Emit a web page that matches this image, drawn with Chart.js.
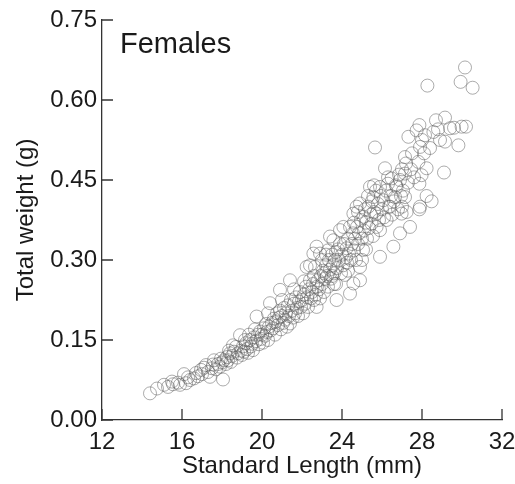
<!DOCTYPE html>
<html>
<head>
<meta charset="utf-8">
<script src="https://cdn.jsdelivr.net/npm/chart.js@4"></script>
<style>
  html, body { margin: 0; padding: 0; background: #fff; }
</style>
</head>
<body>
<canvas id="lengthWeightChart" width="515" height="484"></canvas>
<script>
// 体长 (mm)
const lengthMm = [
  14.4, 14.75, 15.1, 15.3, 15.55, 15.8, 15.9, 16.2, 16.1, 15.5,
  16.4, 16.6, 16.8, 16.95, 17.0, 17.2, 17.3, 17.4, 17.5, 17.6,
  17.7, 17.8, 17.9, 18.0, 18.05, 17.1, 16.7, 17.55, 17.95, 16.3,
  18.1, 18.2, 18.25, 18.3, 18.4, 18.45, 18.5, 18.6, 18.7, 18.75,
  18.8, 18.9, 18.95, 19.0, 19.05, 19.1, 19.2, 19.25, 19.3, 19.4,
  19.45, 19.5, 19.55, 19.6, 19.7, 19.73, 19.8, 19.85, 19.9, 19.95,
  18.55, 19.15, 19.65, 18.35, 19.35,
  20.0, 20.05, 20.1, 20.15, 20.2, 20.25, 20.3, 20.35, 20.4, 20.45,
  20.5, 20.55, 20.6, 20.65, 20.7, 20.75, 20.8, 20.85, 20.9, 20.95,
  21.0, 21.05, 21.1, 21.15, 21.2, 21.25, 21.3, 21.35, 21.4, 21.45,
  21.5, 21.55, 21.6, 21.65, 21.7, 21.75, 21.8, 21.85, 21.9, 21.95,
  20.9, 21.4, 20.3, 21.0, 21.6,
  22.0, 22.05, 22.1, 22.15, 22.2, 22.23, 22.25, 22.3, 22.35, 22.4,
  22.45, 22.5, 22.55, 22.6, 22.65, 22.7, 22.73, 22.75, 22.8, 22.85,
  22.9, 22.95, 23.0, 23.05, 23.1, 23.15, 23.2, 23.25, 23.3, 23.35,
  23.4, 23.45, 23.5, 23.55, 23.57, 23.6, 23.65, 23.7, 23.73, 23.75,
  23.8, 23.85, 23.9, 23.95, 24.0, 22.57, 22.73, 23.4, 23.0, 23.3,
  22.4, 23.6, 23.1, 22.9, 23.9, 23.2, 22.1, 23.7, 22.6, 23.5,
  24.05, 24.07, 24.1, 24.15, 24.2, 24.23, 24.25, 24.3, 24.35, 24.4,
  24.4, 24.45, 24.5, 24.55, 24.57, 24.57, 24.6, 24.65, 24.7, 24.73,
  24.75, 24.8, 24.85, 24.9, 24.9, 24.9, 24.95, 25.0, 25.05, 25.07,
  25.1, 25.15, 25.2, 25.25, 25.3, 25.32, 25.35, 25.4, 25.45, 25.48,
  25.5, 25.55, 25.57, 25.6, 25.65, 25.7, 25.73, 25.73, 25.8, 25.85,
  25.9, 25.9, 25.9, 25.95, 24.3, 24.6, 25.2, 25.6, 24.8, 25.0,
  26.0, 26.07, 26.1, 26.15, 26.2, 26.23, 26.3, 26.35, 26.4, 26.45,
  26.48, 26.5, 26.57, 26.6, 26.65, 26.7, 26.73, 26.8, 26.85, 26.9,
  26.9, 26.95, 26.98, 27.0, 27.05, 27.15, 27.15, 27.15, 27.2, 27.23,
  27.3, 27.32, 27.4, 27.45, 27.5, 27.6, 27.73, 27.82, 27.87, 27.87,
  27.87, 27.9, 27.9, 27.98, 26.3, 27.0,
  28.0, 28.15, 28.23, 28.23, 28.27, 28.48, 28.57, 28.7, 28.9, 29.1,
  29.15, 29.15, 29.4, 29.82, 29.93, 29.98, 30.15, 30.53, 30.2, 28.4,
  28.8, 29.6, 28.1
];

// 总重 (g)
const weightG = [
  0.050, 0.059, 0.066, 0.062, 0.067, 0.070, 0.066, 0.069, 0.086, 0.072,
  0.075, 0.078, 0.082, 0.094, 0.086, 0.103, 0.090, 0.081, 0.097, 0.112,
  0.095, 0.105, 0.100, 0.108, 0.076, 0.098, 0.088, 0.104, 0.115, 0.080,
  0.112, 0.105, 0.118, 0.112, 0.125, 0.109, 0.120, 0.128, 0.137, 0.117,
  0.125, 0.159, 0.130, 0.122, 0.138, 0.128, 0.144, 0.133, 0.126, 0.150,
  0.138, 0.143, 0.131, 0.155, 0.148, 0.194, 0.160, 0.142, 0.166, 0.152,
  0.140, 0.150, 0.170, 0.130, 0.160,
  0.160, 0.145, 0.172, 0.158, 0.180, 0.165, 0.150, 0.175, 0.219, 0.168,
  0.182, 0.172, 0.190, 0.160, 0.185, 0.200, 0.178, 0.192, 0.205, 0.170,
  0.195, 0.182, 0.210, 0.188, 0.200, 0.175, 0.215, 0.195, 0.181, 0.225,
  0.205, 0.192, 0.218, 0.200, 0.230, 0.210, 0.195, 0.222, 0.240, 0.212,
  0.244, 0.262, 0.200, 0.225, 0.245,
  0.225, 0.200, 0.235, 0.218, 0.250, 0.287, 0.230, 0.212, 0.245, 0.262,
  0.228, 0.240, 0.255, 0.270, 0.287, 0.235, 0.212, 0.250, 0.262, 0.245,
  0.312, 0.270, 0.255, 0.280, 0.240, 0.265, 0.290, 0.270, 0.250, 0.300,
  0.282, 0.265, 0.310, 0.290, 0.337, 0.275, 0.300, 0.255, 0.225, 0.285,
  0.320, 0.300, 0.356, 0.275, 0.310, 0.312, 0.325, 0.344, 0.300, 0.318,
  0.290, 0.255, 0.275, 0.228, 0.330, 0.310, 0.260, 0.315, 0.225, 0.270,
  0.290, 0.362, 0.330, 0.272, 0.305, 0.322, 0.295, 0.340, 0.312, 0.362,
  0.237, 0.300, 0.330, 0.350, 0.387, 0.256, 0.318, 0.340, 0.300, 0.400,
  0.362, 0.330, 0.350, 0.287, 0.262, 0.406, 0.375, 0.340, 0.319, 0.381,
  0.355, 0.395, 0.370, 0.340, 0.420, 0.400, 0.360, 0.437, 0.385, 0.368,
  0.410, 0.345, 0.418, 0.390, 0.511, 0.430, 0.362, 0.387, 0.405, 0.375,
  0.437, 0.356, 0.306, 0.420, 0.280, 0.370, 0.320, 0.440, 0.390, 0.300,
  0.395, 0.412, 0.380, 0.472, 0.430, 0.375, 0.443, 0.400, 0.400, 0.420,
  0.453, 0.385, 0.325, 0.410, 0.418, 0.440, 0.437, 0.395, 0.460, 0.450,
  0.350, 0.420, 0.387, 0.470, 0.430, 0.462, 0.418, 0.493, 0.481, 0.390,
  0.445, 0.531, 0.362, 0.470, 0.500, 0.455, 0.543, 0.484, 0.553, 0.443,
  0.395, 0.512, 0.400, 0.459, 0.455, 0.400,
  0.525, 0.534, 0.472, 0.420, 0.627, 0.410, 0.540, 0.562, 0.525, 0.464,
  0.567, 0.522, 0.547, 0.515, 0.634, 0.550, 0.661, 0.623, 0.550, 0.510,
  0.545, 0.548, 0.500
];

const xTicks = [12, 16, 20, 24, 28, 32];
const yTicks = [0.0, 0.15, 0.3, 0.45, 0.6, 0.75];

const points = lengthMm.map((x, i) => ({ x: x, y: weightG[i] }));

const fontFamily = "'Liberation Sans', Arial, Helvetica, sans-serif";

// 内向刻度线 + 图内标签
const innerTicks = {
  id: "innerTicks",
  afterDraw(chart) {
    const ctx = chart.ctx;
    const area = chart.chartArea;
    const xs = chart.scales.x;
    const ys = chart.scales.y;
    ctx.save();
    ctx.strokeStyle = "#333";
    ctx.lineWidth = 1.3;
    ctx.beginPath();
    xTicks.forEach((v) => {
      const px = xs.getPixelForValue(v);
      ctx.moveTo(px, area.bottom);
      ctx.lineTo(px, area.bottom - 11);
    });
    yTicks.forEach((v) => {
      const py = ys.getPixelForValue(v);
      ctx.moveTo(area.left, py);
      ctx.lineTo(area.left + 11, py);
    });
    ctx.stroke();

    ctx.fillStyle = "#1a1a1a";
    ctx.font = "29px " + fontFamily;
    ctx.textAlign = "left";
    ctx.textBaseline = "alphabetic";
    ctx.fillText("Females", area.left + 18, area.top + 33);
    ctx.restore();
  },
};

const ctx = document.getElementById("lengthWeightChart").getContext("2d");
const chart = new Chart(ctx, {
  type: "scatter",
  data: {
    datasets: [
      {
        data: points,
        pointStyle: "circle",
        pointRadius: 6.5,
        pointBorderWidth: 1,
        pointBorderColor: "rgba(90, 90, 90, 0.5)",
        pointBackgroundColor: "rgba(0, 0, 0, 0)",
      },
    ],
  },
  options: {
    responsive: false,
    animation: false,
    events: [],
    layout: {
      padding: { left: 0, right: 13, top: 20, bottom: 0 },
    },
    scales: {
      x: {
        type: "linear",
        min: 12,
        max: 32,
        afterBuildTicks: (scale) => {
          scale.ticks = xTicks.map((v) => ({ value: v }));
        },
        afterFit: (scale) => {
          scale.height = 64;
          scale.paddingLeft = 0;
          scale.paddingRight = 0;
        },
        grid: { display: false, drawTicks: false },
        border: { display: true, color: "#333", width: 1.3 },
        ticks: {
          padding: 8,
          color: "#1a1a1a",
          font: { family: fontFamily, size: 24 },
          maxRotation: 0,
          callback: (v) => String(v),
        },
        title: {
          display: true,
          text: "Standard Length (mm)",
          color: "#1a1a1a",
          font: { family: fontFamily, size: 24 },
          padding: { top: 0, bottom: 3 },
        },
      },
      y: {
        type: "linear",
        min: 0,
        max: 0.75,
        afterBuildTicks: (scale) => {
          scale.ticks = yTicks.map((v) => ({ value: v }));
        },
        afterFit: (scale) => {
          scale.width = 102;
        },
        grid: { display: false, drawTicks: false },
        border: { display: true, color: "#333", width: 1.3 },
        ticks: {
          padding: 5,
          color: "#1a1a1a",
          font: { family: fontFamily, size: 24 },
          callback: (v) => Number(v).toFixed(2),
        },
        title: {
          display: true,
          text: "Total weight (g)",
          color: "#1a1a1a",
          font: { family: fontFamily, size: 24 },
          padding: { top: 12, bottom: 0 },
        },
      },
    },
    plugins: {
      legend: { display: false },
      tooltip: { enabled: false },
    },
  },
  plugins: [innerTicks],
});
</script>
</body>
</html>
